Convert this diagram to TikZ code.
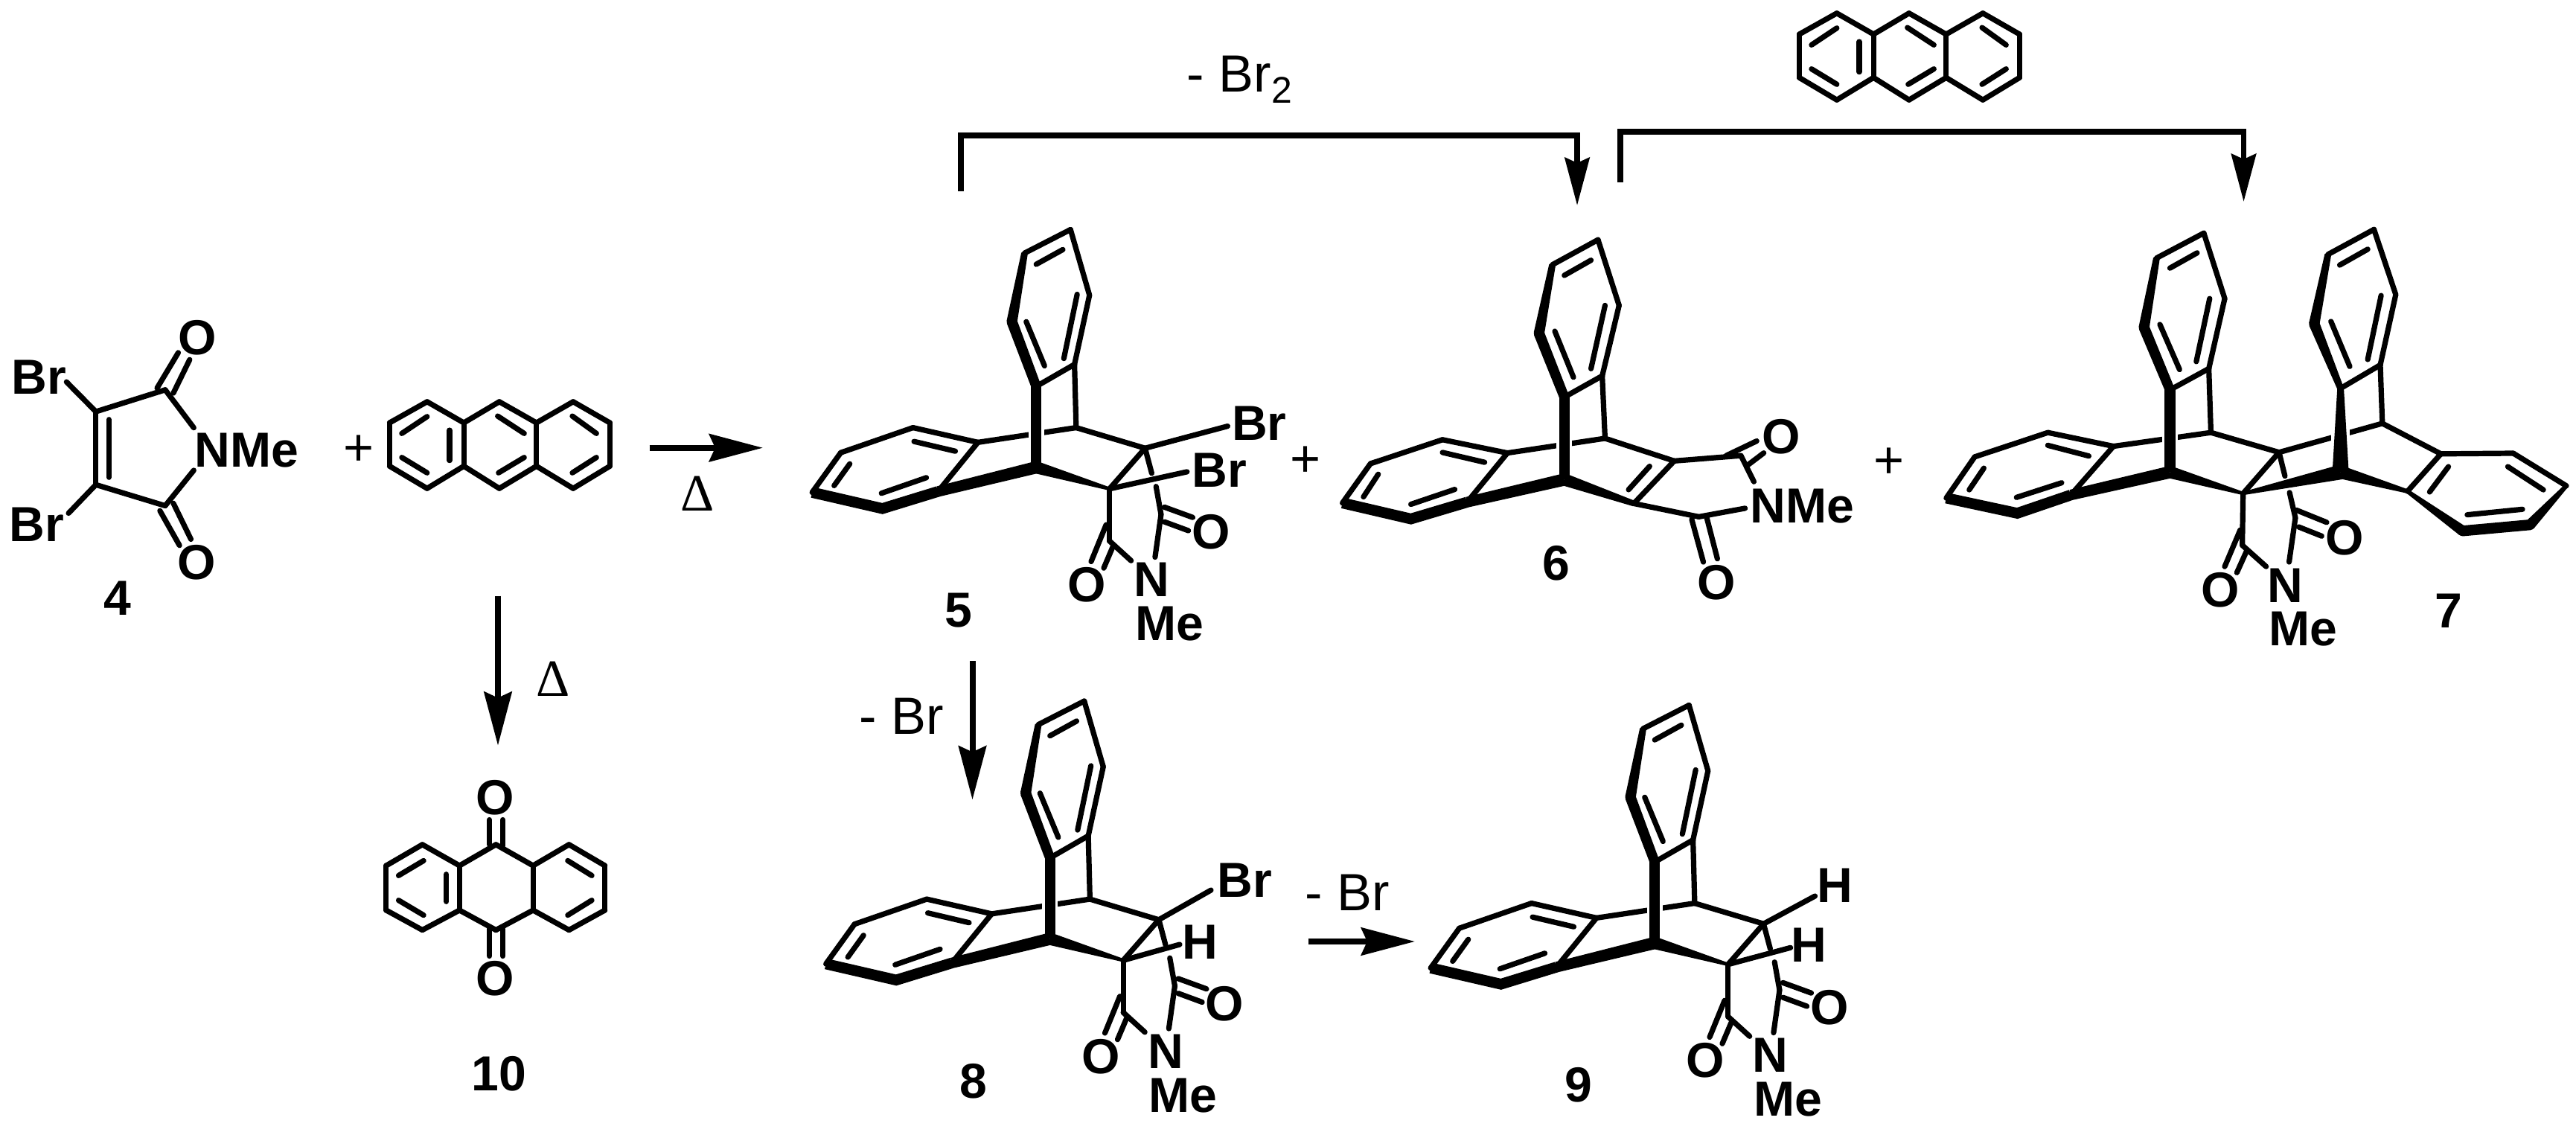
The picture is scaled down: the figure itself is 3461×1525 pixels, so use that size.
\documentclass[tikz,border=0pt]{standalone}
\usepackage{fontspec}
\setmainfont{Liberation Sans}
\newfontfamily\deltafont{Liberation Serif}
\usetikzlibrary{calc,arrows.meta}
\tikzset{
  bond/.style={line width=0.072cm,line cap=round,line join=round},
  heavy/.style={line width=0.145cm,line cap=butt,line join=miter},
  lab/.style={font=\bfseries\fontsize{18.8}{20}\selectfont,inner sep=0pt},
  reg/.style={font=\fontsize{20}{22}\selectfont,inner sep=0pt},
  dlt/.style={font=\deltafont\fontsize{20}{22}\selectfont,inner sep=0pt},
  rxn/.style={line width=0.08cm,-{Stealth[length=0.72cm,width=0.37cm,inset=0.08cm]}},
  brk/.style={line width=0.075cm,line join=miter,-{Stealth[length=0.64cm,width=0.33cm,inset=0.07cm]}}
}
% named atoms
\newcommand{\pts}[2]{\foreach \pn/\px/\py in {#2}{\coordinate (#1\pn) at (\px,\py);}}
% bonds between named atoms
\newcommand{\bnds}[2]{\foreach \pa/\pb in {#2}{\draw[bond] (#1\pa) -- (#1\pb);}}
% short free strokes (inner lines of double bonds, broken bonds)
\newcommand{\strokes}[1]{\foreach \xa/\ya/\xb/\yb in {#1}{\draw[bond] (\xa,\ya) -- (\xb,\yb);}}
% filled tapered bond, widths in px at both ends
\newcommand{\wb}[4]{\fill ($(#1)!#3*0.0055cm!90:(#2)$) -- ($(#1)!#3*0.0055cm!-90:(#2)$) -- ($(#2)!#4*0.0055cm!90:(#1)$) -- ($(#2)!#4*0.0055cm!-90:(#1)$) -- cycle;}
% white gap over a crossed bond
\newcommand{\halo}[3]{\draw[white,line width=#3*0.01cm] ($(#1)!0.35!(#2)$) -- ($(#1)!0.85!(#2)$);}
% shared benzo-bicyclic core
\newcommand{\Core}[1]{%
  \bnds{#1}{a/b,a/f,f/e,e/d,e/g,i/j,j/k,k/l,i/n,i/g}
  \halo{#1d}{#1h}{21}
  \wb{#1b}{#1c}{8}{13}
  \fill (#1c) circle (0.07cm);
  \wb{#1c}{#1d}{13}{12}
  \wb{#1d}{#1h}{13}{13}
  \draw[heavy] (#1l) -- (#1m) -- (#1n);
  \wb{#1n}{#1h}{13}{15}
}
% skeleton of 5, 8 and 9, in the coordinates of 5
\newcommand{\Five}[1]{%
  \pts{#1}{a/868/72,b/730/152,c/692/385,d/765/605,e/880/530,f/925/295,g/885/745,h/765/880,
    i/590/795,j/395/745,k/178/830,l/92/965,m/303/1020,n/470/962,p/1092/815,q/985/953,
    r/1140/1040,s/985/1130,y/1122/1185,z/1050/1197}
  \Core{#1}
  \wb{#1h}{#1q}{15}{4}
  \bnds{#1}{g/p,p/q,q/s,s/z,r/y}
  \strokes{765/190/845/140,735/385/790/535,888/292/848/510,398/792/522/825,205/868/158/942,300/968/435/915,
    1092/815/1112/900,1125/945/1140/1040,1150/1015/1235/1050,1150/1065/1222/1095,
    975/1075/930/1200,995/1150/968/1222}
  \node[lab] (#1O1) at (918,1280) {O};
  \node[lab] (#1O2) at (1290,1100) {O};
  \node[lab] (#1N) at (1112,1262) {N};
  \node[lab] (#1Me) at (1165,1412) {Me};
}
\newcommand{\Anth}[1]{%
  \pts{#1}{a/955/505,b/1047/420,c/1137/505,d/1224/420,e/1315/505,f/1405/420,g/1495/505,h/1495/680,
    i/1405/770,j/1315/680,k/1224/770,l/1137/680,m/1047/770,n/955/680}
  \bnds{#1}{a/b,b/c,c/d,d/e,e/f,f/g,g/h,h/i,i/j,j/k,k/l,l/m,m/n,n/a,c/l,e/j}
  \strokes{1047/480/985/548,985/645/1047/707,1102/535/1102/657,1220/478/1285/548,1285/645/1222/707,1403/478/1462/548,1462/645/1403/707}
}
\begin{document}
\begin{tikzpicture}[x=0.01cm,y=-0.01cm]
\useasboundingbox (0,0) rectangle (3461,1525);
\fill[white] (0,0) rectangle (3461,1525);

% ---- 4
\begin{scope}[shift={(0,400)},x=0.005485cm,y=-0.003333cm]
  \pts{M}{a/235/460,b/235/755,c/405/372,d/405/840,e/475/525,f/475/697,g/163/340,h/168/870}
  \bnds{M}{a/b,a/c,b/d,c/e,d/f,a/g,b/h}
  \strokes{267/492/267/725,385/365/437/222,425/385/465/250,392/860/440/1000,425/830/468/975}
  \node[lab] (MO1) at (483,160) {O};
  \node[lab] (MO2) at (482,1070) {O};
  \node[lab] (MBr1) at (95,320) {Br};
  \node[lab] (MBr2) at (90,915) {Br};
  \node[lab] (MN) at (605,617) {NMe};
  \node[lab] (L4) at (288,1212) {4};
  \node[reg] (P1) at (880,618) {+};
\end{scope}
% ---- anthracene
\begin{scope}[shift={(0,400)},x=0.005485cm,y=-0.003333cm]
  \Anth{An}
\end{scope}
\begin{scope}[shift={(1894,-122)},x=0.005485cm,y=-0.003333cm]
  \Anth{At}
\end{scope}
% ---- 10
\begin{scope}[shift={(440,1000)},x=0.003333cm,y=-0.003333cm]
  \pts{T}{a/237/490,b/383/405,c/533/490,d/533/670,e/383/750,f/237/670,g/680/405,h/830/490,i/830/670,j/680/750,
    k/975/405,l/1120/490,m/1120/670,n/975/750}
  \bnds{T}{a/b,b/c,c/d,d/e,e/f,f/a,c/g,g/h,h/i,i/j,j/d,h/k,k/l,l/m,m/n,n/i}
  \strokes{287/530/388/470,287/630/388/690,480/525/480/635,970/470/1067/530,1067/630/970/690,
    654/305/654/405,708/305/708/410,654/745/654/855,708/745/708/855}
  \node[lab] (TO1) at (678,215) {O};
  \node[lab] (TO2) at (678,947) {O};
  \node[lab] (L10) at (693,1330) {10};
\end{scope}
% ---- 5
\begin{scope}[shift={(1050,280)},x=0.004464cm,y=-0.003953cm]
  \Five{E}
  \coordinate (Ebr1) at (1340,740);
  \coordinate (Ebr2) at (1218,895);
  \draw[bond] (Ep) -- (Ebr1);
  \draw[bond] (Eq) -- (Ebr2);
  \node[lab] (EBr1) at (1435,730) {Br};
  \node[lab] (EBr2) at (1315,890) {Br};
  \node[lab] (L5) at (532,1365) {5};
\end{scope}
% ---- 8
\begin{scope}[shift={(1068.5,913.5)},x=0.004464cm,y=-0.003953cm]
  \Five{H}
\end{scope}
\coordinate (Hbr) at (1627,1196);
\coordinate (Hh) at (1585,1269);
\draw[bond] (Hp) -- (Hbr);
\draw[bond] (Hq) -- (Hh);
\node[lab] (HBr) at (1672,1182.5) {Br};
\node[lab] (HH) at (1612.5,1266) {H};
\node[lab] (L8) at (1307.7,1452.8) {8};
% ---- 9
\begin{scope}[shift={(1881,919)},x=0.004464cm,y=-0.003953cm]
  \Five{N}
\end{scope}
\coordinate (Nh1) at (2438.5,1204);
\coordinate (Nh2) at (2405.6,1273.3);
\draw[bond] (Np) -- (Nh1);
\draw[bond] (Nq) -- (Nh2);
\node[lab] (NH1) at (2465.4,1190) {H};
\node[lab] (NH2) at (2430.7,1269.4) {H};
\node[lab] (L9) at (2120.7,1457.5) {9};
% ---- 6
\begin{scope}[shift={(1780,280)},x=0.004719cm,y=-0.003571cm]
  \pts{S}{a/778/118,b/648/212,c/610/470,d/682/710,e/790/630,f/838/365,g/798/865,h/682/1020,
    i/520/920,j/335/870,k/130/960,l/50/1108,m/245/1168,n/405/1105,p/995/950,q/880/1110,
    r/1185/930,t/1065/1160,u/1222/1028,v/1197/1128}
  \Core{S}
  \wb{Sh}{Sq}{15}{7}
  \bnds{S}{g/p,p/q,p/r,q/t,r/u,t/v}
  \strokes{682/252/758/195,655/462/708/635,798/365/758/603,335/918/455/955,152/1000/110/1085,245/1113/370/1057,
    925/970/865/1058,1143/930/1230/875,1205/965/1250/920,1045/1170/1078/1330,1088/1165/1118/1318}
  \node[lab] (SO1) at (1300,860) {O};
  \node[lab] (SO2) at (1115,1408) {O};
  \node[lab] (SN) at (1360,1120) {NMe};
  \node[lab] (L6) at (660,1335) {6};
\end{scope}
% ---- 7
\begin{scope}[shift={(2580,260)},x=0.005612cm,y=-0.004082cm]
  \pts{L}{a/678/130,b/565/212,c/535/440,d/597/645,e/690/575,f/728/345,g/695/785,h/597/915,
    i/462/830,j/305/785,k/130/865,l/62/1000,m/232/1050,n/360/990,p/858/850,q/772/985,
    r/897/1065,s/770/1155,y/882/1210,z/827/1225}
  \Core{L}
  \pts{R}{a/1085/118,b/975/200,c/942/428,d/1005/640,e/1100/563,f/1137/332,g/1105/755,h/1005/915,
    i/1245/855,j/1418/853,k/1545/960,l/1458/1088,m/1297/1108,n/1165/978}
  \wb{Lh}{Lq}{15}{4}
  \bnds{L}{g/p,p/q,q/s,s/z,r/y}
  \bnds{R}{a/b,a/f,f/e,e/d,e/g,g/i,i/j,j/k,i/n}
  \draw[bond] (Lp) -- (Rg);
  \halo{Rd}{Rh}{25}
  \wb{Rb}{Rc}{8}{13}
  \fill (Rc) circle (0.07cm);
  \wb{Rc}{Rd}{13}{8}
  \wb{Rd}{Rh}{8}{20}
  \wb{Rh}{Rn}{16}{5}
  \wb{Rn}{Rm}{5}{13}
  \fill (Rm) circle (0.07cm);
  \wb{Rm}{Rl}{13}{13}
  \fill (Rl) circle (0.07cm);
  \wb{Rl}{Rk}{13}{5}
  \wb{Rh}{Lq}{18}{4}
  \strokes{597/245/662/195,573/430/620/578,692/345/660/552,305/827/403/862,152/902/117/973,230/998/338/950,
    1003/235/1070/183,982/420/1027/568,1102/335/1070/545,1405/897/1490/973,1440/1037/1308/1055,1218/980/1263/897,
    858/850/872/928,883/982/897/1065,900/1040/972/1080,905/1095/960/1125,
    765/1105/728/1225,780/1175/757/1245}
  \node[lab] (LO1) at (718,1303) {O};
  \node[lab] (LO2) at (1015,1130) {O};
  \node[lab] (LN) at (873,1287) {N};
  \node[lab] (LMe) at (915,1430) {Me};
  \node[lab] (L7) at (1263,1370) {7};
\end{scope}
% ---- plus signs
\node[reg] (P2) at (1754,620) {+};
\node[reg] (P3) at (2538,622) {+};
% ---- reaction arrows
\coordinate (A1s) at (872.7,601.7); \coordinate (A1e) at (1025,601.7);
\draw[rxn] (A1s) -- (A1e);
\node[dlt] (D1) at (937.5,663) {Δ};
\coordinate (A2s) at (669,800.7); \coordinate (A2e) at (669,1001.7);
\draw[rxn] (A2s) -- (A2e);
\node[dlt] (D2) at (742.7,912.7) {Δ};
\coordinate (A3s) at (1306.5,888); \coordinate (A3e) at (1306.5,1074.5);
\draw[rxn] (A3s) -- (A3e);
\node[reg] (T1) at (1211,962) {- Br};
\coordinate (A4s) at (1757.7,1265); \coordinate (A4e) at (1901,1265);
\draw[rxn] (A4s) -- (A4e);
\node[reg] (T2) at (1810,1199) {- Br};
% ---- brackets
\coordinate (B1a) at (1291,257); \coordinate (B1b) at (1291,182); \coordinate (B1c) at (2119,182); \coordinate (B1d) at (2119,276);
\draw[brk] (B1a) -- (B1b) -- (B1c) -- (B1d);
\coordinate (B2a) at (2177,245); \coordinate (B2b) at (2177,177); \coordinate (B2c) at (3014.5,177); \coordinate (B2d) at (3014.5,271);
\draw[brk] (B2a) -- (B2b) -- (B2c) -- (B2d);
\node[reg,anchor=base west] (T3) at (1594,124) {- Br\raisebox{-4pt}{\fontsize{14.2}{16}\selectfont 2}};
\end{tikzpicture}
\end{document}
